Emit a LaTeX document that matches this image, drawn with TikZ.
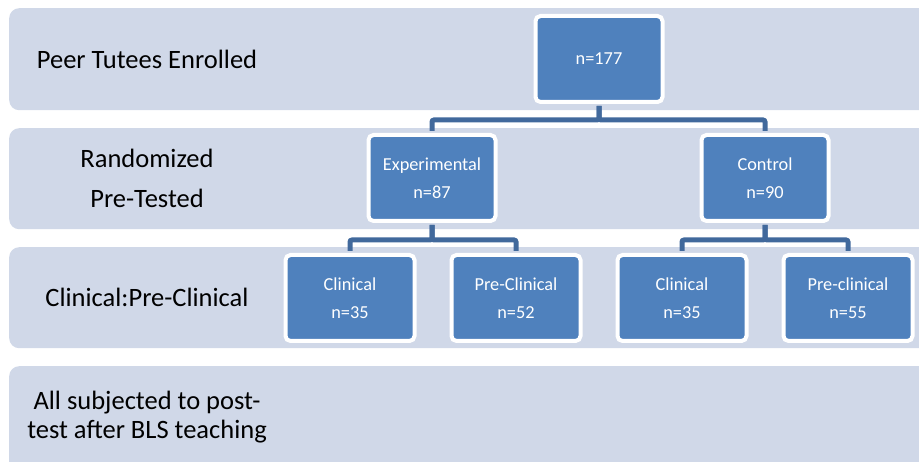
\documentclass[tikz,border=0pt]{standalone}
\usepackage{fontspec}
\setmainfont{Carlito}
\definecolor{bandcol}{HTML}{D0D8E8}
\definecolor{boxcol}{HTML}{4F81BD}
\definecolor{conncol}{HTML}{41699C}
\tikzset{
  band/.style={fill=bandcol, rounded corners=10pt, inner sep=0pt, anchor=north west, minimum width=940pt},
  bandtext/.style={text=black, font=\fontsize{26.5}{31}\selectfont, align=center, inner sep=0pt},
  box/.style={fill=boxcol, draw=white, line width=4pt, rounded corners=5pt, minimum width=127pt, minimum height=86pt, text=white, font=\fontsize{18.3}{28}\selectfont, align=center, inner sep=0pt},
  conn/.style={draw=conncol, line width=5pt, rounded corners=2pt, shorten <=2pt, shorten >=2pt}
}
\begin{document}
\begin{tikzpicture}[x=1pt,y=-1pt]
\useasboundingbox (0,0) rectangle (919,462);
\clip (0,0) rectangle (919,462);
% bands
\node[band, minimum height=102pt] (b1) at (9,8) {};
\node[band, minimum height=101pt] (b2) at (9,128) {};
\node[band, minimum height=101pt] (b3) at (9,247) {};
\node[band, minimum height=120pt] (b4) at (9,366) {};
% band labels
\node[bandtext] (t1) at (147,59) {Peer Tutees Enrolled};
\node[bandtext] (t2) at (147,178) {Randomized\\[9pt]Pre-Tested};
\node[bandtext] (t3) at (147,297) {Clinical:Pre-Clinical};
\node[bandtext, font=\fontsize{26.5}{29}\selectfont] (t4) at (147,417) {All subjected to post-\\test after BLS teaching};
% boxes
\node[box] (top) at (599,59) {n=177};
\node[box] (exp) at (432,178) {Experimental\\n=87};
\node[box] (ctl) at (765,178) {Control\\n=90};
\node[box, minimum width=129pt] (ec) at (350,298) {Clinical\\n=35};
\node[box, minimum width=129pt] (ep) at (516,298) {Pre-Clinical\\n=52};
\node[box, minimum width=129pt] (cc) at (682,298) {Clinical\\n=35};
\node[box, minimum width=129pt] (cp) at (848,298) {Pre-clinical\\n=55};
% connectors
\draw[conn] (top.south) -- ++(0,16) -| (exp.north);
\draw[conn] (top.south) -- ++(0,16) -| (ctl.north);
\draw[conn] (exp.south) -- ++(0,17) -| (ec.north);
\draw[conn] (exp.south) -- ++(0,17) -| (ep.north);
\draw[conn] (ctl.south) -- ++(0,17) -| (cc.north);
\draw[conn] (ctl.south) -- ++(0,17) -| (cp.north);
\end{tikzpicture}
\end{document}
